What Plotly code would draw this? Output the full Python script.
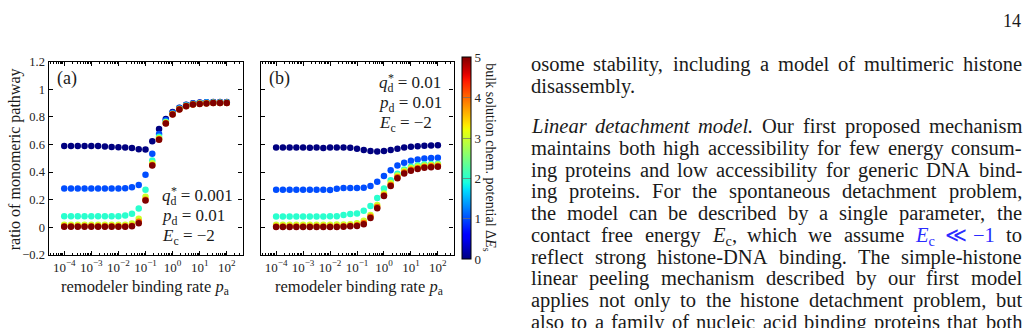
import numpy as np
import plotly.graph_objects as go

W, H = 1028, 328

# ---------------- data ----------------
pa_exp = [-4, -3.75, -3.5, -3.25, -3, -2.75, -2.5, -2.25, -2, -1.75, -1.5, -1.25,
          -1, -0.75, -0.5, -0.25, 0, 0.25, 0.5, 0.75, 1, 1.25, 1.5, 1.75, 2]
dEs_levels = [0, 1, 2, 3, 4, 5]

panel_a_dE0 = [0.588, 0.588, 0.588, 0.588, 0.588, 0.588, 0.586, 0.581, 0.579, 0.577, 0.574, 0.565,
               0.564, 0.623, 0.711, 0.785, 0.835, 0.866, 0.888, 0.898, 0.904, 0.906, 0.907, 0.907, 0.907]
panel_a_dE1 = [0.281, 0.281, 0.281, 0.281, 0.281, 0.281, 0.281, 0.281, 0.281, 0.283, 0.290, 0.307,
               0.380, 0.533, 0.675, 0.775, 0.830, 0.864, 0.886, 0.897, 0.902, 0.905, 0.905, 0.905, 0.905]
panel_a_dE2 = [0.081, 0.081, 0.081, 0.081, 0.081, 0.081, 0.081, 0.081, 0.081, 0.085, 0.099, 0.136,
               0.272, 0.484, 0.655, 0.765, 0.823, 0.859, 0.882, 0.893, 0.898, 0.902, 0.902, 0.902, 0.902]
panel_a_dE3 = [0.018, 0.018, 0.018, 0.018, 0.018, 0.018, 0.018, 0.018, 0.018, 0.018, 0.027, 0.062,
               0.221, 0.464, 0.645, 0.758, 0.820, 0.856, 0.879, 0.891, 0.896, 0.899, 0.901, 0.901, 0.901]
panel_a_dE4 = [0.007, 0.007, 0.007, 0.007, 0.007, 0.007, 0.007, 0.007, 0.007, 0.007, 0.012, 0.040,
               0.200, 0.452, 0.638, 0.754, 0.818, 0.854, 0.878, 0.890, 0.894, 0.898, 0.900, 0.900, 0.900]
panel_a_dE5 = [0.004, 0.004, 0.004, 0.004, 0.004, 0.004, 0.004, 0.004, 0.004, 0.004, 0.007, 0.030,
               0.194, 0.448, 0.634, 0.752, 0.817, 0.853, 0.877, 0.890, 0.893, 0.897, 0.900, 0.900, 0.900]

panel_b_dE0 = [0.577, 0.577, 0.577, 0.577, 0.577, 0.576, 0.577, 0.575, 0.577, 0.577, 0.577, 0.576,
               0.569, 0.559, 0.553, 0.549, 0.552, 0.560, 0.569, 0.577, 0.583, 0.587, 0.590, 0.592, 0.595]
panel_b_dE1 = [0.272, 0.272, 0.272, 0.272, 0.272, 0.272, 0.272, 0.272, 0.270, 0.279, 0.284, 0.284,
               0.284, 0.286, 0.300, 0.330, 0.372, 0.413, 0.448, 0.468, 0.482, 0.491, 0.498, 0.501, 0.503]
panel_b_dE2 = [0.078, 0.078, 0.078, 0.078, 0.078, 0.078, 0.078, 0.078, 0.080, 0.081, 0.090, 0.097,
               0.100, 0.120, 0.154, 0.212, 0.281, 0.341, 0.388, 0.418, 0.438, 0.450, 0.457, 0.459, 0.461]
panel_b_dE3 = [0.018, 0.018, 0.018, 0.018, 0.018, 0.018, 0.018, 0.018, 0.018, 0.020, 0.020, 0.023,
               0.030, 0.048, 0.090, 0.161, 0.244, 0.320, 0.376, 0.410, 0.429, 0.440, 0.447, 0.451, 0.455]
panel_b_dE4 = [0.006, 0.006, 0.006, 0.006, 0.006, 0.006, 0.006, 0.006, 0.006, 0.006, 0.007, 0.011,
               0.015, 0.031, 0.076, 0.147, 0.233, 0.307, 0.362, 0.396, 0.416, 0.428, 0.437, 0.442, 0.444]
panel_b_dE5 = [0.003, 0.003, 0.003, 0.003, 0.003, 0.003, 0.003, 0.003, 0.003, 0.003, 0.004, 0.007,
               0.009, 0.023, 0.067, 0.138, 0.226, 0.300, 0.355, 0.390, 0.410, 0.422, 0.431, 0.435, 0.438]

y_tickvals = [-0.2, 0, 0.2, 0.4, 0.6, 0.8, 1.0, 1.2]
y_ticktext = ["\u22120.2", "0", "0.2", "0.4", "0.6", "0.8", "1", "1.2"]
x_tickexp = [-4, -3, -2, -1, 0, 1, 2]
x_ticktext = ["10<sup>\u22124</sup>", "10<sup>\u22123</sup>", "10<sup>\u22122</sup>", "10<sup>\u22121</sup>",
              "10<sup>0</sup>", "10<sup>1</sup>", "10<sup>2</sup>"]
cbar_ticks = [0, 1, 2, 3, 4, 5]

body_plain_1 = "osome stability, including a model of multimeric histone"
body_plain_2 = "disassembly."
body_italic_3 = "Linear detachment model."
body_plain_3 = "Our first proposed mechanism"
body_plain_4 = "maintains both high accessibility for few energy consum-"
body_plain_5 = "ing proteins and low accessibility for generic DNA bind-"
body_plain_6 = "ing proteins. For the spontaneous detachment problem,"
body_plain_7 = "the model can be described by a single parameter, the"
body_plain_8a = "contact free energy"
body_plain_8b = "which we assume"
body_plain_9 = "reflect strong histone-DNA binding. The simple-histone"
body_plain_10 = "linear peeling mechanism described by our first model"
body_plain_11 = "applies not only to the histone detachment problem, but"
body_plain_12 = "also to a family of nucleic acid binding proteins that both"

# ---------------- styles / text metrics ----------------
def jet(v):
    r = np.interp(v, [0, 0.35, 0.66, 0.89, 1], [0, 0, 1, 1, 0.5])
    g = np.interp(v, [0, 0.125, 0.375, 0.64, 0.91, 1], [0, 0, 1, 1, 0, 0])
    b = np.interp(v, [0, 0.11, 0.34, 0.65, 1], [0.5, 1, 1, 0, 0])
    return "rgb(%d,%d,%d)" % (round(r * 255), round(g * 255), round(b * 255))

jet_scale = [[float(v), jet(v)] for v in np.linspace(0, 1, 51)]
FONT = "Liberation Serif"

ROMAN = dict(zip("abcdefghijklmnopqrstuvwxyz",
                 [444, 500, 444, 500, 444, 333, 500, 500, 278, 278, 500, 278, 778,
                  500, 500, 500, 500, 333, 389, 278, 500, 500, 722, 500, 500, 444]))
ROMAN.update(dict(zip("ABCDEFGHIJKLMNOPQRSTUVWXYZ",
                      [722, 667, 667, 722, 611, 556, 722, 722, 333, 389, 722, 611, 889,
                       722, 722, 556, 722, 667, 556, 611, 722, 722, 944, 722, 722, 611])))
ROMAN.update({" ": 250, ",": 250, ".": 250, "-": 333, ":": 278, ";": 278})
ITALIC = dict(zip("abcdefghijklmnopqrstuvwxyz",
                  [500, 500, 444, 500, 444, 278, 500, 500, 278, 278, 444, 278, 722,
                   500, 500, 500, 500, 389, 389, 278, 500, 444, 667, 444, 444, 389]))
ITALIC.update({"L": 556, "E": 611, ".": 250, " ": 250})

def wid(s, table):
    return sum(table.get(c, 500) for c in s) / 1000.0

def R(s):
    return (s, wid(s, ROMAN))

def I(s):
    return ("<i>" + s + "</i>", wid(s, ITALIC))

BLUE = "#2b2bff"
def B(html, w):
    return ("<span style='color:%s'>%s</span>" % (BLUE, html), w)

def px_x(p):
    return p / W

def px_y(p):
    return 1 - p / H

fig = go.Figure()
xvals = [10 ** e for e in pa_exp]
panels = [
    ("x", "y", [panel_a_dE0, panel_a_dE1, panel_a_dE2, panel_a_dE3, panel_a_dE4, panel_a_dE5]),
    ("x2", "y2", [panel_b_dE0, panel_b_dE1, panel_b_dE2, panel_b_dE3, panel_b_dE4, panel_b_dE5]),
]
for xa, ya, series in panels:
    for lvl, vals in zip(dEs_levels, series):
        fig.add_trace(go.Scatter(
            x=xvals, y=vals, mode="markers", xaxis=xa, yaxis=ya, showlegend=False,
            marker=dict(size=6.5, color=jet(lvl / 5), line=dict(width=0)),
            hoverinfo="skip"))

# colour bar carrier
fig.add_trace(go.Scatter(
    x=[None], y=[None], mode="markers", showlegend=False, xaxis="x2", yaxis="y2",
    marker=dict(color=[0], cmin=0, cmax=5, colorscale=jet_scale, showscale=True,
                colorbar=dict(x=px_x(461.5), xanchor="left", xpad=0, ypad=0,
                              y=px_y(158), yanchor="middle", len=202, lenmode="pixels",
                              thickness=8.5, thicknessmode="pixels",
                              outlinewidth=1, outlinecolor="black",
                              tickvals=cbar_ticks, ticktext=[str(t) for t in cbar_ticks],
                              ticks="inside", ticklen=8, tickcolor="rgba(110,110,110,0.7)",
                              tickfont=dict(family=FONT, size=13, color="#222"))),
))

minor_vals = [k * 10.0 ** e for e in range(-5, 3) for k in range(2, 10)]
xaxis_common = dict(
    type="log", range=[-4.58, 2.58], tickvals=[10 ** e for e in x_tickexp], ticktext=x_ticktext,
    ticks="inside", ticklen=4, tickcolor="black", tickwidth=1,
    showline=True, linecolor="black", linewidth=1.2, mirror="ticks",
    showgrid=False, zeroline=False,
    tickfont=dict(family=FONT, size=13, color="#222"),
    minor=dict(tickvals=minor_vals, ticks="inside", ticklen=2, tickcolor="black", showgrid=False),
)
yaxis_common = dict(
    range=[-0.2, 1.2], tickvals=y_tickvals, ticktext=y_ticktext,
    ticks="inside", ticklen=4, tickcolor="black", tickwidth=1,
    showline=True, linecolor="black", linewidth=1.2, mirror="ticks",
    showgrid=False, zeroline=False,
    tickfont=dict(family=FONT, size=12.5, color="#222"),
)

fig.update_layout(
    width=W, height=H, margin=dict(l=0, r=0, t=0, b=0),
    paper_bgcolor="white", plot_bgcolor="white", showlegend=False,
    xaxis=dict(domain=[px_x(48.5), px_x(242.5)], anchor="y", **xaxis_common),
    xaxis2=dict(domain=[px_x(260.5), px_x(453.5)], anchor="y2", **xaxis_common),
    yaxis=dict(domain=[px_y(259), px_y(57)], anchor="x", **yaxis_common),
    yaxis2=dict(domain=[px_y(259), px_y(57)], anchor="x2", showticklabels=False, **yaxis_common),
)

ann = []
def add_text(text, x, y, size, xanchor="center", yanchor="middle", angle=0, color="#1a1a1a"):
    ann.append(dict(text=text, x=px_x(x), y=px_y(y), xref="paper", yref="paper",
                    xanchor=xanchor, yanchor=yanchor, showarrow=False, textangle=angle,
                    borderpad=0, borderwidth=0,
                    font=dict(family=FONT, size=size, color=color)))

# axis titles
add_text("ratio of monomeric pathway", 15, 159, 16, angle=-90)
add_text("remodeler binding rate <i>p</i><sub>a</sub>", 145, 292, 16.5)
add_text("remodeler binding rate <i>p</i><sub>a</sub>", 359, 292, 16.5)
# colour bar title
add_text("bulk solution chem. potential \u0394<i>E</i><sub>s</sub>", 490, 157, 14, angle=90)

# panel labels and parameter boxes (asterisk stacked over the subscript)
add_text("(a)", 57, 75, 18, xanchor="left")
add_text("(b)", 269, 75, 18, xanchor="left")
PF = 17
for (x0, y0, qv) in [(162, 198, "0.001"), (379, 80, "0.01")]:
    add_text("<i>q</i><sub>d</sub> = " + qv, x0, y0, PF, xanchor="left")
    add_text("*", x0 + 12.0, y0 - 5.5, 12, xanchor="center")
    add_text("<i>p</i><sub>d</sub> = 0.01", x0, y0 + 21, PF, xanchor="left")
    add_text("<i>E</i><sub>c</sub> = \u22122", x0, y0 + 42, PF, xanchor="left")

# page number
add_text("14", 1021, 15, 18, xanchor="right")

# ---------------- justified body text ----------------
FS = 20.5
LEFT, RIGHT = 531, 1022
ASC = 0.891  # Liberation Serif ascent (em)

def words(s):
    return [R(t) for t in s.split(" ")]

body = [
    (words(body_plain_1), 66.8, True),
    (words(body_plain_2), 89.6, False),
    ([I(t) for t in body_italic_3.split(" ")] + words(body_plain_3), 131.5, True),
    (words(body_plain_4), 154.2, True),
    (words(body_plain_5), 176.8, True),
    (words(body_plain_6), 199.5, True),
    (words(body_plain_7), 222.2, True),
    (words(body_plain_8a)
     + [("<i>E</i><sub>c</sub>,", (611 + 0.7 * 444 + 250) / 1000.0)]
     + words(body_plain_8b)
     + [B("<i>E</i><sub>c</sub>", (611 + 0.7 * 444) / 1000.0),
        B("\u226a", 0.80), B("\u22121", 1.064), R("to")], 244.9, True),
    (words(body_plain_9), 267.5, True),
    (words(body_plain_10), 290.2, True),
    (words(body_plain_11), 312.9, True),
    (words(body_plain_12), 335.5, True),
]
for toks, base, justify in body:
    nat = sum(w for _, w in toks) * FS
    gap = (RIGHT - LEFT - nat) / (len(toks) - 1) if (justify and len(toks) > 1) else 0.25 * FS
    x = LEFT
    for html, w in toks:
        add_text(html, x, base - ASC * FS, FS, xanchor="left", yanchor="top")
        x += w * FS + gap

fig.update_layout(annotations=ann)
fig.write_html("out.html")
